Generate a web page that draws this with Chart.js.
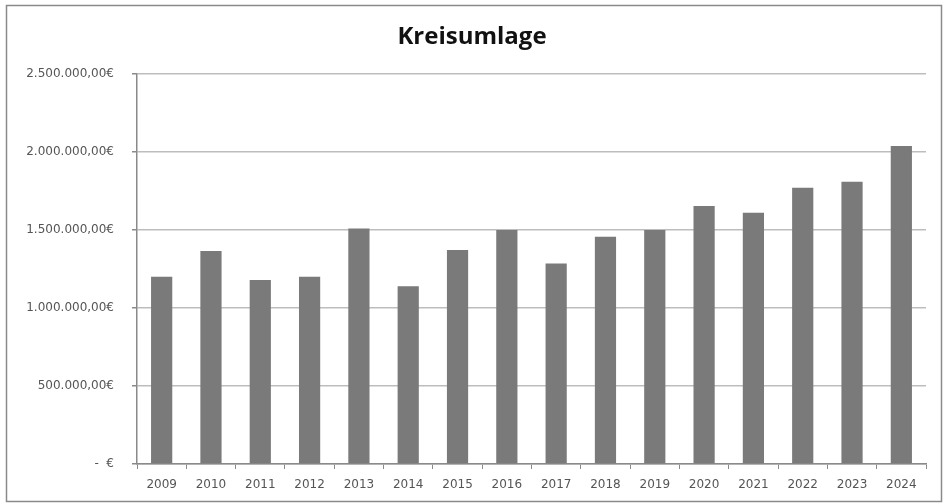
<!DOCTYPE html>
<html>
<head>
<meta charset="utf-8">
<script src="https://cdn.jsdelivr.net/npm/chart.js@4/dist/chart.umd.min.js"></script>
<style>
    html, body { margin: 0; padding: 0; background: #fff; }
    #wrap { width: 944px; height: 504px; position: relative; }
</style>
</head>
<body>
<div id="wrap"><canvas id="chart" width="944" height="504"></canvas></div>
<script>
const years = ['2009', '2010', '2011', '2012', '2013', '2014', '2015', '2016',
    '2017', '2018', '2019', '2020', '2021', '2022', '2023', '2024'];
const kreisumlage = [1200000, 1365000, 1180000, 1200000, 1510000, 1140000, 1372000, 1500000,
    1286000, 1457000, 1500000, 1654000, 1611000, 1771000, 1810000, 2038000];
const yTicks = [0, 500000, 1000000, 1500000, 2000000, 2500000];

function formatEuro(v) {
    if (v === 0) return '-  €';
    return v.toLocaleString('de-DE', { minimumFractionDigits: 2, maximumFractionDigits: 2 }) + '€';
}

// frame around the whole chart
const framePlugin = {
    id: 'frame',
    afterDraw(chart) {
        const ctx = chart.ctx;
        ctx.save();
        ctx.strokeStyle = '#8a8a8a';
        ctx.lineWidth = 1.5;
        ctx.strokeRect(6.5, 5.5, 935, 496);
        ctx.restore();
    }
};

const tickFont = { family: 'DejaVu Sans', size: 12 };

new Chart(document.getElementById('chart'), {
    type: 'bar',
    data: {
        labels: years,
        datasets: [{
            label: 'Kreisumlage',
            data: kreisumlage,
            backgroundColor: '#7a7a7a',
            categoryPercentage: 1,
            barPercentage: 0.43
        }]
    },
    options: {
        responsive: false,
        animation: false,
        layout: { padding: 0 },
        plugins: {
            legend: { display: false },
            tooltip: { enabled: false },
            title: {
                display: true,
                text: 'Kreisumlage',
                color: '#111',
                font: { family: 'Open Sans', size: 24, weight: 'bold' },
                padding: { top: 22.6, bottom: 22.6 }
            }
        },
        scales: {
            x: {
                grid: { display: true, drawOnChartArea: false, tickLength: 5, color: '#8a8a8a', offset: true },
                border: { color: '#8a8a8a', width: 1.5 },
                ticks: { color: '#555', font: tickFont, padding: 9, maxRotation: 0 },
                afterFit(scale) { scale.height = 40; }
            },
            y: {
                min: 0,
                max: 2500000,
                afterBuildTicks(scale) { scale.ticks = yTicks.map(v => ({ value: v })); },
                grid: { color: '#bdbdbd', lineWidth: 1.5, tickLength: 5, tickColor: '#8a8a8a' },
                border: { color: '#8a8a8a', width: 1.5 },
                ticks: { color: '#555', font: tickFont, padding: 18, callback: v => formatEuro(v) },
                afterFit(scale) { scale.width = 137; }
            },
            // empty spacer on the right so the title stays centred on the page
            spacer: {
                position: 'right',
                min: 0,
                max: 1,
                grid: { display: false },
                border: { display: false },
                ticks: { display: false },
                afterFit(scale) { scale.width = 18; }
            }
        }
    },
    plugins: [framePlugin]
});
</script>
</body>
</html>
